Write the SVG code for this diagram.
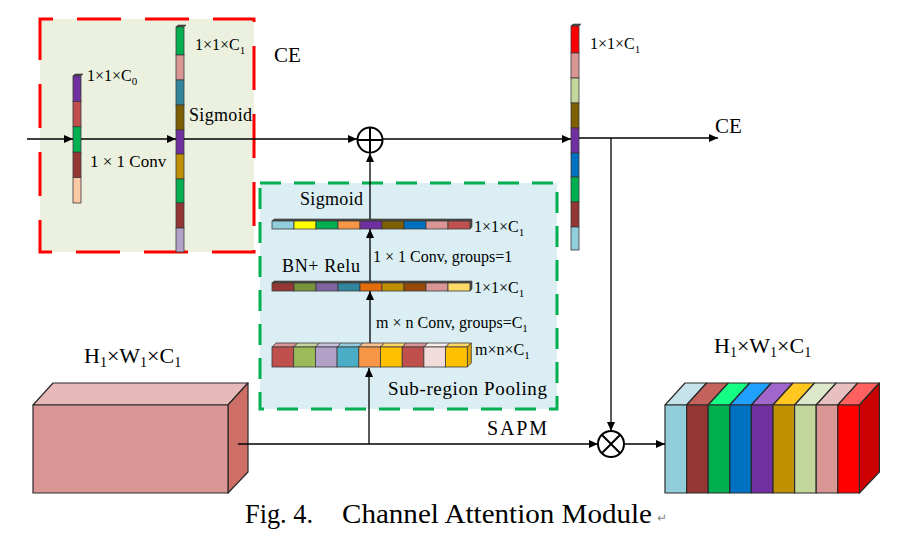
<svg xmlns="http://www.w3.org/2000/svg" width="910" height="547" viewBox="0 0 910 547">
<defs>
<marker id="arr" markerWidth="9" markerHeight="8" refX="9" refY="4" orient="auto" markerUnits="userSpaceOnUse"><path d="M0,0 L9,4 L0,8 z" fill="#000"/></marker>
<style>
.t{font-family:"Liberation Serif","Times New Roman",serif;fill:#000}
.seg{stroke:#3a3a3a;stroke-width:0.8}
.cap{fill:#4a4a4a;stroke:#3a3a3a;stroke-width:0.6}
.edge{stroke:#2a2a2a;stroke-width:1.2;stroke-linejoin:round}
.ln{fill:none;stroke:#000;stroke-width:1.3}
.lnm{fill:none;stroke:#000;stroke-width:1.3;marker-end:url(#arr)}
.op{fill:#fff;stroke:#000;stroke-width:2}
</style>
</defs>
<rect width="910" height="547" fill="#fff"/>

<g id="ce-box">
<rect x="40" y="19" width="214" height="233" fill="#EBF1DE" stroke="#FF0000" stroke-width="3" stroke-dasharray="44 24" stroke-dashoffset="31"/>
<text class="t" x="274" y="62" font-size="21">CE</text>
</g>

<g id="sapm-box">
<rect x="260" y="183" width="297" height="226" fill="#DAEEF3" stroke="#00B050" stroke-width="3" stroke-dasharray="21 13"/>
</g>

<g id="bar-c0">
<polygon class="cap" points="73,76 75,74 83,74 81,76"/>
<rect class="seg" x="73" y="76" width="8" height="25.4" fill="#7030A0"/>
<rect class="seg" x="73" y="101.4" width="8" height="25.4" fill="#C0504D"/>
<rect class="seg" x="73" y="126.8" width="8" height="25.4" fill="#00B050"/>
<rect class="seg" x="73" y="152.2" width="8" height="25.4" fill="#943634"/>
<rect class="seg" x="73" y="177.6" width="8" height="25.4" fill="#FAC8A4"/>
<text class="t" x="87" y="81" font-size="16">1×1×C<tspan font-size="11" dy="4">0</tspan></text>
<text class="t" x="90" y="167" font-size="17">1 × 1 Conv</text>
</g>

<g id="bar-ce">
<polygon class="cap" points="176,27 178,25 186,25 184,27"/>
<rect class="seg" x="176" y="27" width="8" height="28" fill="#00B050"/>
<rect class="seg" x="176" y="55" width="8" height="25" fill="#D99694"/>
<rect class="seg" x="176" y="80" width="8" height="25" fill="#31859C"/>
<rect class="seg" x="176" y="105" width="8" height="25" fill="#7F6000"/>
<rect class="seg" x="176" y="130" width="8" height="24" fill="#7030A0"/>
<rect class="seg" x="176" y="154" width="8" height="25" fill="#C09000"/>
<rect class="seg" x="176" y="179" width="8" height="24" fill="#00B050"/>
<rect class="seg" x="176" y="203" width="8" height="25" fill="#943634"/>
<rect class="seg" x="176" y="228" width="8" height="24" fill="#B3A2C7"/>
<text class="t" x="195" y="50" font-size="16">1×1×C<tspan font-size="11" dy="4">1</tspan></text>
<text class="t" x="189" y="121" font-size="18" textLength="63" lengthAdjust="spacing">Sigmoid</text>
</g>

<g id="bar-out">
<polygon class="cap" points="571,26 573,24 581,24 579,26"/>
<rect class="seg" x="571" y="26" width="8" height="27" fill="#FF0000"/>
<rect class="seg" x="571" y="53" width="8" height="25" fill="#D99694"/>
<rect class="seg" x="571" y="78" width="8" height="25" fill="#C3D69B"/>
<rect class="seg" x="571" y="103" width="8" height="25" fill="#7F6000"/>
<rect class="seg" x="571" y="128" width="8" height="25" fill="#7030A0"/>
<rect class="seg" x="571" y="153" width="8" height="24" fill="#0070C0"/>
<rect class="seg" x="571" y="177" width="8" height="25" fill="#00B050"/>
<rect class="seg" x="571" y="202" width="8" height="25" fill="#943634"/>
<rect class="seg" x="571" y="227" width="8" height="23" fill="#92CDDC"/>
<text class="t" x="590" y="49" font-size="16">1×1×C<tspan font-size="11" dy="4">1</tspan></text>
<text class="t" x="715" y="133" font-size="21">CE</text>
</g>

<g id="bar-sigmoid">
<polygon class="cap" points="272,221 274,219 472,219 470,221"/>
<polygon class="cap" points="470,221 472,219 472,227 470,229"/>
<rect class="seg" x="272" y="221" width="22" height="8" fill="#92CDDC"/>
<rect class="seg" x="294" y="221" width="22" height="8" fill="#FFFF00"/>
<rect class="seg" x="316" y="221" width="22" height="8" fill="#00B050"/>
<rect class="seg" x="338" y="221" width="22" height="8" fill="#F79646"/>
<rect class="seg" x="360" y="221" width="22" height="8" fill="#7030A0"/>
<rect class="seg" x="382" y="221" width="22" height="8" fill="#7F6000"/>
<rect class="seg" x="404" y="221" width="22" height="8" fill="#0070C0"/>
<rect class="seg" x="426" y="221" width="22" height="8" fill="#D99694"/>
<rect class="seg" x="448" y="221" width="22" height="8" fill="#C0504D"/>
<text class="t" x="300" y="205" font-size="18" textLength="63" lengthAdjust="spacing">Sigmoid</text>
<text class="t" x="474" y="232" font-size="16">1×1×C<tspan font-size="11" dy="4">1</tspan></text>
</g>

<g id="bar-bnrelu">
<polygon class="cap" points="272,283 274,281 472,281 470,283"/>
<polygon class="cap" points="470,283 472,281 472,289 470,291"/>
<rect class="seg" x="272" y="283" width="22" height="8" fill="#953735"/>
<rect class="seg" x="294" y="283" width="22" height="8" fill="#77933C"/>
<rect class="seg" x="316" y="283" width="22" height="8" fill="#8064A2"/>
<rect class="seg" x="338" y="283" width="22" height="8" fill="#31859C"/>
<rect class="seg" x="360" y="283" width="22" height="8" fill="#E46C0A"/>
<rect class="seg" x="382" y="283" width="22" height="8" fill="#C09000"/>
<rect class="seg" x="404" y="283" width="22" height="8" fill="#984807"/>
<rect class="seg" x="426" y="283" width="22" height="8" fill="#D99694"/>
<rect class="seg" x="448" y="283" width="22" height="8" fill="#FFD966"/>
<text class="t" x="282" y="272" font-size="18" textLength="78" lengthAdjust="spacing">BN+ Relu</text>
<text class="t" x="373" y="262" font-size="16">1 × 1 Conv, groups=1</text>
<text class="t" x="474" y="293" font-size="16">1×1×C<tspan font-size="11" dy="4">1</tspan></text>
</g>

<g id="pooling-blocks">
<g class="seg">
<polygon points="272,347 276,343 297.7,343 293.7,347" fill="#D99694"/>
<polygon points="293.7,347 297.7,343 319.4,343 315.4,347" fill="#C3D69B"/>
<polygon points="315.4,347 319.4,343 341.1,343 337.1,347" fill="#CCC1DA"/>
<polygon points="337.1,347 341.1,343 362.8,343 358.8,347" fill="#93CDDD"/>
<polygon points="358.8,347 362.8,343 384.5,343 380.5,347" fill="#FAC090"/>
<polygon points="380.5,347 384.5,343 406.2,343 402.2,347" fill="#FFD966"/>
<polygon points="402.2,347 406.2,343 427.9,343 423.9,347" fill="#D99694"/>
<polygon points="423.9,347 427.9,343 449.6,343 445.6,347" fill="#F8EDED"/>
<polygon points="445.6,347 449.6,343 471.3,343 467.3,347" fill="#FFD966"/>
<polygon points="467.3,347 471.3,343 471.3,363 467.3,367" fill="#E0A800"/>
</g>
<rect class="seg" x="272" y="347" width="21.7" height="20" fill="#C0504D"/>
<rect class="seg" x="293.7" y="347" width="21.7" height="20" fill="#9BBB59"/>
<rect class="seg" x="315.4" y="347" width="21.7" height="20" fill="#B2A1C7"/>
<rect class="seg" x="337.1" y="347" width="21.7" height="20" fill="#4BACC6"/>
<rect class="seg" x="358.8" y="347" width="21.7" height="20" fill="#F79646"/>
<rect class="seg" x="380.5" y="347" width="21.7" height="20" fill="#FFC000"/>
<rect class="seg" x="402.2" y="347" width="21.7" height="20" fill="#C0504D"/>
<rect class="seg" x="423.9" y="347" width="21.7" height="20" fill="#F2DCDB"/>
<rect class="seg" x="445.6" y="347" width="21.7" height="20" fill="#FFC000"/>
<text class="t" x="376" y="328" font-size="16">m × n Conv, groups=C<tspan font-size="11" dy="4">1</tspan></text>
<text class="t" x="475" y="355" font-size="16">m×n×C<tspan font-size="11" dy="4">1</tspan></text>
<text class="t" x="388" y="395" font-size="19" textLength="159" lengthAdjust="spacing">Sub-region Pooling</text>
</g>

<g id="input-cube">
<polygon class="edge" points="33,405 53,383 248,383 228,405" fill="#E6B9B8"/>
<polygon class="edge" points="228,405 248,383 248,472 228,493" fill="#CD6F67"/>
<rect class="edge" x="33" y="405" width="195" height="88" fill="#D99694"/>
<text class="t" x="84" y="363" font-size="22">H<tspan font-size="14" dy="4">1</tspan><tspan dy="-4">×W</tspan><tspan font-size="14" dy="4">1</tspan><tspan dy="-4">×C</tspan><tspan font-size="14" dy="4">1</tspan></text>
</g>

<g id="output-cube">
<g class="edge">
<polygon points="665,405 685,383 706.6,383 686.6,405" fill="#C5E2EA"/>
<polygon points="686.6,405 706.6,383 728.2,383 708.2,405" fill="#C4635D"/>
<polygon points="708.2,405 728.2,383 749.8,383 729.8,405" fill="#14FF84"/>
<polygon points="729.8,405 749.8,383 771.4,383 751.4,405" fill="#21A1FF"/>
<polygon points="751.4,405 771.4,383 793,383 773,405" fill="#A066CC"/>
<polygon points="773,405 793,383 814.6,383 794.6,405" fill="#FFC71F"/>
<polygon points="794.6,405 814.6,383 836.2,383 816.2,405" fill="#DDE8CA"/>
<polygon points="816.2,405 836.2,383 857.8,383 837.8,405" fill="#E8C0BF"/>
<polygon points="837.8,405 857.8,383 879.4,383 859.4,405" fill="#FF6161"/>
<polygon points="859.4,405 879.4,383 879.4,472 859.4,493" fill="#CC0000"/>
<rect x="665" y="405" width="21.6" height="88" fill="#92CDDC"/>
<rect x="686.6" y="405" width="21.6" height="88" fill="#943634"/>
<rect x="708.2" y="405" width="21.6" height="88" fill="#00B050"/>
<rect x="729.8" y="405" width="21.6" height="88" fill="#0070C0"/>
<rect x="751.4" y="405" width="21.6" height="88" fill="#7030A0"/>
<rect x="773" y="405" width="21.6" height="88" fill="#BF9000"/>
<rect x="794.6" y="405" width="21.6" height="88" fill="#C3D69B"/>
<rect x="816.2" y="405" width="21.6" height="88" fill="#D99694"/>
<rect x="837.8" y="405" width="21.6" height="88" fill="#FF0000"/>
</g>
<text class="t" x="714" y="353" font-size="22">H<tspan font-size="14" dy="4">1</tspan><tspan dy="-4">×W</tspan><tspan font-size="14" dy="4">1</tspan><tspan dy="-4">×C</tspan><tspan font-size="14" dy="4">1</tspan></text>
</g>

<g id="connectors">
<path class="lnm" d="M27,139 H73"/>
<path class="lnm" d="M81,139 H176"/>
<path class="lnm" d="M184,139 H357"/>
<path class="lnm" d="M383,139 H571"/>
<path class="lnm" d="M579,138 H718"/>
<path class="lnm" d="M611,138 V431"/>
<path class="lnm" d="M238,444 H598"/>
<path class="lnm" d="M624,444 H665"/>
<path class="lnm" d="M369,444 V368"/>
<path class="lnm" d="M370,343 V291"/>
<path class="lnm" d="M370,281 V229"/>
<path class="lnm" d="M370,219 V153"/>
<text class="t" x="487" y="435" font-size="20" textLength="60" lengthAdjust="spacing">SAPM</text>
</g>

<g id="add-op">
<circle class="op" cx="370" cy="140" r="12.5"/>
<path d="M357.5,140 H382.5 M370,127.5 V152.5" stroke="#000" stroke-width="2"/>
</g>

<g id="mul-op">
<circle class="op" cx="611" cy="444" r="13"/>
<path d="M601.8,434.8 L620.2,453.2 M620.2,434.8 L601.8,453.2" stroke="#000" stroke-width="2"/>
</g>

<g id="caption">
<text class="t" x="245" y="523" font-size="28" textLength="68" lengthAdjust="spacingAndGlyphs">Fig. 4.</text>
<text class="t" x="342" y="523" font-size="28" textLength="310" lengthAdjust="spacingAndGlyphs">Channel Attention Module</text>
<text class="t" x="657" y="522" font-size="12" style="fill:#888">↵</text>
</g>
</svg>
